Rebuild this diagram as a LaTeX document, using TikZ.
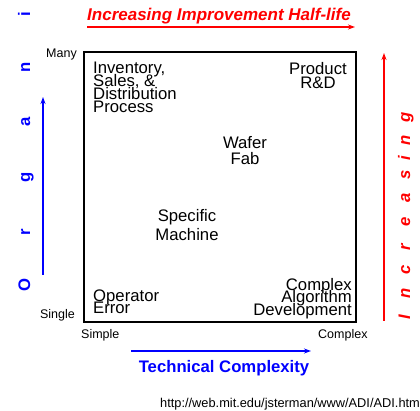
\documentclass[tikz,border=0pt]{standalone}
\usepackage{fontspec}
\setmainfont{Liberation Sans}
\usetikzlibrary{arrows.meta}
\definecolor{axisblue}{RGB}{0,0,255}
\definecolor{axisred}{RGB}{255,0,0}
% tight line spacing for the stacked entries
\newcommand{\entryfont}[1]{\fontsize{16.7}{#1}\selectfont\lineskiplimit=-30pt\lineskip=0pt}
\begin{document}
\begin{tikzpicture}[x=1pt,y=-1pt,
  cell/.style={inner sep=0pt, font=\entryfont{13}},
  tick/.style={inner sep=0pt, font=\fontsize{12.5}{15}\selectfont},
  axisarrow/.style={line width=1.5pt, -{Stealth[length=7pt,width=5pt]}},
  orgletter/.style={inner sep=0pt, anchor=base, rotate=90, text=axisblue,
    font=\fontsize{16.7}{20}\selectfont\bfseries},
  incletter/.style={inner sep=0pt, anchor=base, rotate=90, text=axisred,
    font=\fontsize{16.7}{20}\selectfont\bfseries\itshape}]
\useasboundingbox (0,0) rectangle (420,411);
\clip (0,0) rectangle (420,411);
\fill[white] (0,0) rectangle (420,411);

% quadrant frame
\draw[line width=1.5pt] (84,52) rectangle (356,322);

% entries inside the frame
\node[cell, anchor=north west, align=left] (inv) at (93,62)
  {Inventory,\\Sales, \&\\Distribution\\Process};
\node[cell, anchor=north, align=center, font=\entryfont{14}] (prod) at (318,62)
  {Product\\R\&D};
\node[cell, anchor=north, align=center, font=\entryfont{16}] (wafer) at (245,136)
  {Wafer\\Fab};
\node[cell, anchor=north, align=center, font=\entryfont{19}] (spec) at (187,209)
  {Specific\\Machine};
\node[cell, anchor=north west, align=left, font=\entryfont{12}] (op) at (93,290)
  {Operator\\Error};
\node[cell, anchor=north east, align=right, font=\entryfont{12.5}] (alg) at (352,278)
  {Complex\\Algorithm\\Development};

% axis end labels
\node[tick, anchor=base east] (many) at (77,57.5) {Many};
\node[tick, anchor=base east] (single) at (75,319) {Single};
\node[tick, anchor=base west] (simple) at (81,338) {Simple};
\node[tick, anchor=base west] (complex) at (318,338) {Complex};

% horizontal axis: technical complexity
\coordinate (tcL) at (131,351);
\coordinate (tcR) at (311,351);
\draw[axisarrow, axisblue] (tcL) -- (tcR);
\node[inner sep=0pt, anchor=base, text=axisblue, font=\fontsize{16.7}{20}\selectfont\bfseries]
  (tech) at (224,372) {Technical Complexity};

% vertical axis: organizational complexity
\coordinate (orgB) at (43,275);
\coordinate (orgT) at (43,97);
\draw[axisarrow, axisblue] (orgB) -- (orgT);
\foreach \ch/\yy [count=\k] in {O/285, r/232, g/177, a/122, n/67, i/14}
  \node[orgletter] (org\k) at (30,\yy) {\ch};

% top: improvement half-life
\node[inner sep=0pt, anchor=base west, text=axisred,
  font=\fontsize{17}{20}\selectfont\bfseries\itshape] (half) at (87,21)
  {Increasing Improvement Half-life};
\coordinate (hlL) at (87,27);
\coordinate (hlR) at (355,27);
\draw[axisarrow, axisred] (hlL) -- (hlR);

% right: increasing
\coordinate (incB) at (384,321);
\coordinate (incT) at (384,53);
\draw[axisarrow, axisred] (incB) -- (incT);
\foreach \ch/\yy [count=\k] in {I/317, n/293, c/270, r/247, e/222, a/198, s/175, i/158, n/140, g/117}
  \node[incletter] (inc\k) at (410,\yy) {\ch};

% source
\node[inner sep=0pt, anchor=base west, font=\fontsize{12.8}{15}\selectfont] (src) at (160,407)
  {http://web.mit.edu/jsterman/www/ADI/ADI.htm};
\end{tikzpicture}
\end{document}
